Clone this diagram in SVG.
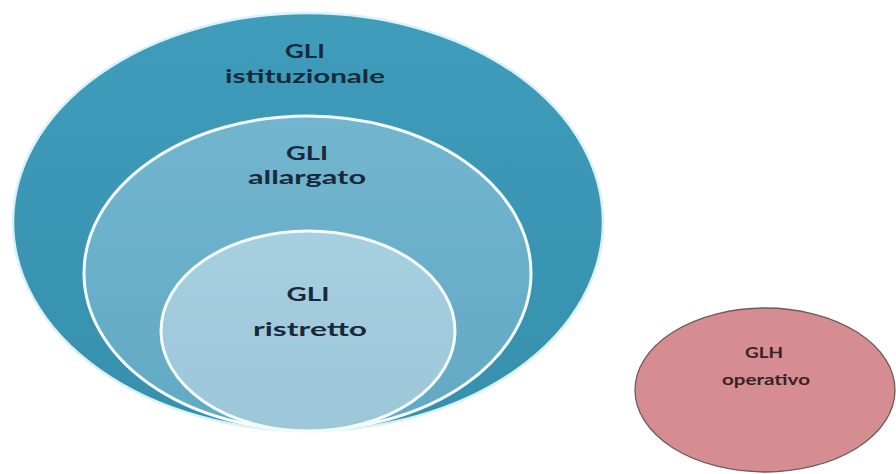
<svg xmlns="http://www.w3.org/2000/svg" width="896" height="474" viewBox="0 0 896 474">
  <defs>
    <linearGradient id="gOuter" x1="0" y1="0" x2="0" y2="1">
      <stop offset="0" stop-color="#3f9cbb"/>
      <stop offset="1" stop-color="#3690ad"/>
    </linearGradient>
    <linearGradient id="gMid" x1="0" y1="0" x2="0" y2="1">
      <stop offset="0" stop-color="#72b5cf"/>
      <stop offset="1" stop-color="#62a9c4"/>
    </linearGradient>
    <linearGradient id="gInner" x1="0" y1="0" x2="0" y2="1">
      <stop offset="0" stop-color="#a6cfdf"/>
      <stop offset="1" stop-color="#9cc7d9"/>
    </linearGradient>
  </defs>
  <style>
    .lbl { font-family: Lato, "Liberation Sans", sans-serif; font-weight: bold; fill: #17293a; text-anchor: middle; }
    .big { font-size: 18px; }
    .glh { font-family: Lato, "Liberation Sans", sans-serif; font-weight: bold; fill: #3a2224; text-anchor: middle; font-size: 16px; }
  </style>
  <rect width="896" height="474" fill="#ffffff"/>
  <g id="gli-istituzionale">
    <ellipse cx="308" cy="222" rx="295" ry="209" fill="url(#gOuter)" stroke="#d9f1f8" stroke-width="2.5"/>
    <text class="lbl big" x="305" y="58" textLength="40" lengthAdjust="spacingAndGlyphs">GLI</text>
    <text class="lbl big" x="305" y="83" textLength="160" lengthAdjust="spacingAndGlyphs">istituzionale</text>
  </g>
  <g id="gli-allargato">
    <ellipse cx="307.5" cy="273" rx="223.5" ry="157" fill="url(#gMid)" stroke="#f4fcff" stroke-width="3"/>
    <text class="lbl big" x="307" y="160" textLength="42" lengthAdjust="spacingAndGlyphs">GLI</text>
    <text class="lbl big" x="307" y="184" textLength="118" lengthAdjust="spacingAndGlyphs">allargato</text>
  </g>
  <g id="gli-ristretto">
    <ellipse cx="308" cy="331" rx="147" ry="100" fill="url(#gInner)" stroke="#f4fcff" stroke-width="3"/>
    <text class="lbl big" x="308" y="301" textLength="43" lengthAdjust="spacingAndGlyphs">GLI</text>
    <text class="lbl big" x="310" y="336" textLength="114" lengthAdjust="spacingAndGlyphs">ristretto</text>
  </g>
  <g id="glh-operativo">
    <ellipse cx="765" cy="390" rx="130" ry="82" fill="#d68d92" stroke="#6e5b5b" stroke-width="1.3"/>
    <text class="glh" x="764" y="358" textLength="38" lengthAdjust="spacingAndGlyphs">GLH</text>
    <text class="glh" x="766" y="385" textLength="88" lengthAdjust="spacingAndGlyphs">operativo</text>
  </g>
  <g id="connectors"/>
</svg>
